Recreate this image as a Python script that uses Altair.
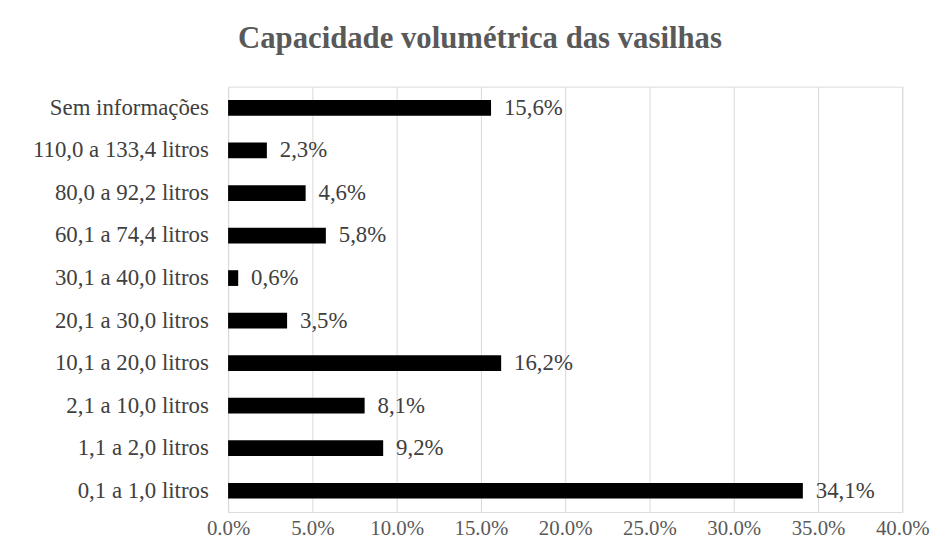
import altair as alt
import pandas as pd

categories = [
    "Sem informações",
    "110,0 a 133,4 litros",
    "80,0 a 92,2 litros",
    "60,1 a 74,4 litros",
    "30,1 a 40,0 litros",
    "20,1 a 30,0 litros",
    "10,1 a 20,0 litros",
    "2,1 a 10,0 litros",
    "1,1 a 2,0 litros",
    "0,1 a 1,0 litros",
]
values = [15.6, 2.3, 4.6, 5.8, 0.6, 3.5, 16.2, 8.1, 9.2, 34.1]
labels = [f"{v:.1f}%".replace(".", ",") for v in values]
x_ticks = [0, 5, 10, 15, 20, 25, 30, 35, 40]

df = pd.DataFrame({"cat": categories, "val": values, "lab": labels})

FONT = "Liberation Serif"

x = alt.X(
    "val:Q",
    scale=alt.Scale(domain=[0, 40], nice=False),
    axis=alt.Axis(
        values=x_ticks,
        labelExpr="format(datum.value, '.1f') + '%'",
        title=None,
        domain=False,
        ticks=False,
        grid=True,
        gridColor="#d9d9d9",
        labelFont=FONT,
        labelFontSize=21,
        labelColor="#595959",
        labelPadding=6,
        labelOverlap=False,
        labelBound=False,
        labelFlush=False,
    ),
)
y = alt.Y(
    "cat:N",
    sort=categories,
    scale=alt.Scale(paddingInner=0.63, paddingOuter=0.315),
    axis=alt.Axis(
        title=None,
        domain=False,
        ticks=False,
        labelFont=FONT,
        labelFontSize=23,
        labelColor="#404040",
        labelPadding=20,
    ),
)

bars = alt.Chart(df).mark_bar(color="#000000").encode(x=x, y=y)
text = alt.Chart(df).mark_text(
    align="left", baseline="middle", dx=13, font=FONT, fontSize=23, color="#404040"
).encode(x="val:Q", y=alt.Y("cat:N", sort=categories), text="lab:N")

chart = (
    alt.layer(bars, text)
    .properties(
        width=680,
        height=429,
        title=alt.TitleParams(
            "Capacidade  volumétrica  das vasilhas",
            font=FONT,
            fontSize=31,
            fontWeight="bold",
            color="#595959",
            anchor="middle",
            dx=-86,
            offset=32,
        ),
        autosize=alt.AutoSizeParams(type="none"),
        padding={"left": 222, "top": 77, "right": 35, "bottom": 40},
    )
    .configure_view(stroke=None)
    .configure(background="#ffffff")
)

chart.save("out.html", embed_options={"renderer": "svg", "actions": False})
